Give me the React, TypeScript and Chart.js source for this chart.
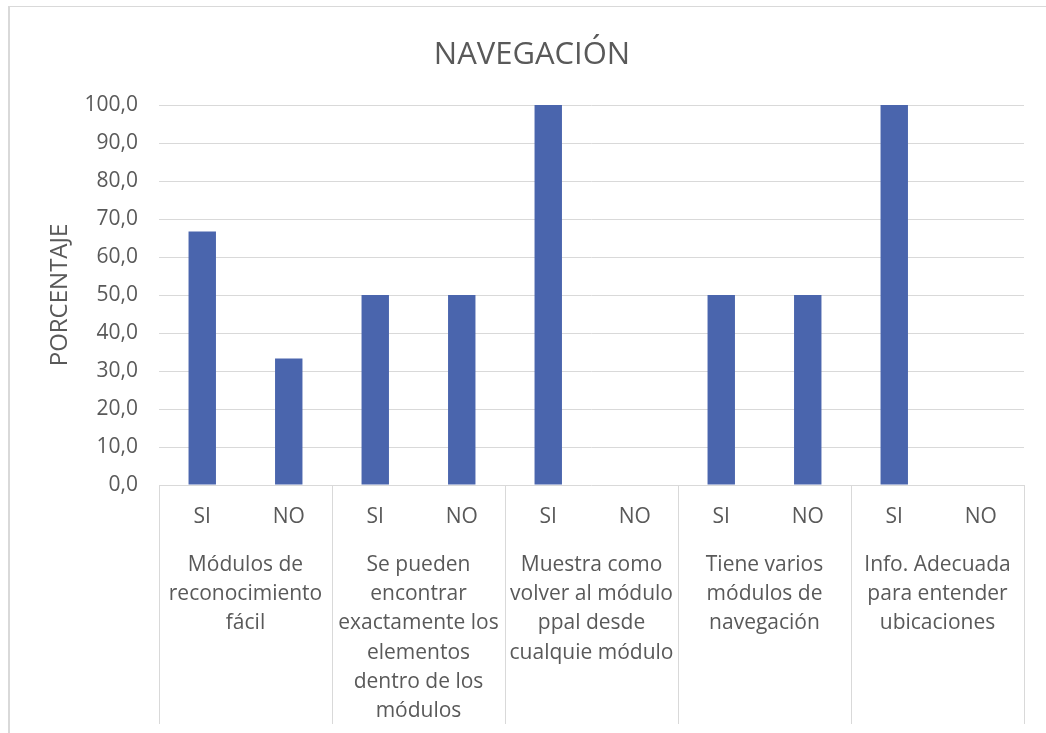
import React, { useEffect, useRef } from "react";
import { Chart, registerables } from "chart.js";

Chart.register(...registerables);

const answers = ["SI", "NO", "SI", "NO", "SI", "NO", "SI", "NO", "SI", "NO"];
const percentages = [66.7, 33.3, 50.0, 50.0, 100.0, 0.0, 50.0, 50.0, 100.0, 0.0];
const groups = [
  ["Módulos de", "reconocimiento", "fácil"],
  ["Se pueden", "encontrar", "exactamente los", "elementos", "dentro de los", "módulos"],
  ["Muestra como", "volver al módulo", "ppal desde", "cualquie módulo"],
  ["Tiene varios", "módulos de", "navegación"],
  ["Info. Adecuada", "para entender", "ubicaciones"],
];
const yTicks = { min: 0, max: 100, step: 10 };

const TEXT = "#595959";
const GRID = "#d9d9d9";
const BAR = "#4A65AD";
const FONT = "'Open Sans', 'DejaVu Sans', sans-serif";

const framePlugin = {
  id: "frame",
  beforeDraw(chart: any) {
    const ctx = chart.ctx;
    ctx.save();
    ctx.fillStyle = "#ffffff";
    ctx.fillRect(0, 0, chart.width, chart.height);
    ctx.fillStyle = GRID;
    ctx.fillRect(8, 6, chart.width - 8, 1);
    ctx.fillRect(8, 6, 2, chart.height - 6);
    ctx.restore();
  },
  afterDraw(chart: any) {
    const xs = chart.scales.x;
    const ctx = chart.ctx;
    const n = groups.length;
    ctx.save();
    ctx.strokeStyle = GRID;
    ctx.lineWidth = 1;
    for (let k = 0; k <= n; k++) {
      const px = Math.round(xs.left + (k * xs.width) / n) + 0.5;
      ctx.beginPath();
      ctx.moveTo(px, chart.chartArea.bottom);
      ctx.lineTo(px, 724);
      ctx.stroke();
    }
    ctx.restore();
  },
};

export default function App() {
  const ref = useRef<HTMLCanvasElement | null>(null);

  useEffect(() => {
    if (!ref.current) return;
    const chart = new Chart(ref.current, {
      type: "bar",
      data: {
        labels: answers,
        datasets: [
          {
            data: percentages,
            backgroundColor: BAR,
            borderWidth: 0,
            barPercentage: 0.317,
            categoryPercentage: 1,
            xAxisID: "x",
            yAxisID: "y",
          },
        ],
      },
      options: {
        responsive: false,
        animation: false,
        layout: { padding: { top: 0, left: 40, right: 22, bottom: 0 } },
        plugins: {
          legend: { display: false },
          tooltip: { enabled: false },
          title: {
            display: true,
            text: "NAVEGACIÓN",
            color: TEXT,
            font: { family: FONT, size: 31, weight: "normal", lineHeight: 1.2 },
            padding: { top: 37, bottom: 30.8 },
          },
        },
        scales: {
          y: {
            min: yTicks.min,
            max: yTicks.max,
            ticks: {
              stepSize: yTicks.step,
              color: TEXT,
              font: { family: FONT, size: 21 },
              padding: 21,
              callback: (v: any) => Number(v).toFixed(1).replace(".", ","),
            },
            grid: { color: GRID, drawTicks: false },
            border: { display: false },
            title: {
              display: true,
              text: "PORCENTAJE",
              color: TEXT,
              font: { family: FONT, size: 24, lineHeight: 1.2 },
              padding: { top: 6, bottom: 0 },
            },
            afterFit: (s: any) => {
              s.width = 119;
            },
          },
          x: {
            type: "category",
            position: "bottom",
            weight: 0,
            offset: true,
            grid: { display: false, drawTicks: false, offset: true },
            border: { display: false },
            ticks: {
              color: TEXT,
              font: { family: FONT, size: 21, lineHeight: 1.2 },
              padding: 19.5,
              autoSkip: false,
              maxRotation: 0,
              minRotation: 0,
            },
            afterFit: (s: any) => {
              s.height = 46;
            },
          },
          x2: {
            type: "category",
            position: "bottom",
            weight: 1,
            labels: groups as any,
            offset: true,
            grid: { display: false, drawTicks: false, offset: true },
            border: { display: false },
            ticks: {
              color: TEXT,
              font: { family: FONT, size: 21, lineHeight: 1.39 },
              padding: 19.5,
              autoSkip: false,
              maxRotation: 0,
              minRotation: 0,
            },
            afterFit: (s: any) => {
              s.height = 202;
            },
          },
        },
      } as any,
      plugins: [framePlugin],
    });
    return () => chart.destroy();
  }, []);

  return (
    <div style={{ position: "fixed", left: 0, top: 0, width: 1046, height: 733, background: "#fff" }}>
      <canvas ref={ref} width={1046} height={733} style={{ display: "block" }} />
    </div>
  );
}
